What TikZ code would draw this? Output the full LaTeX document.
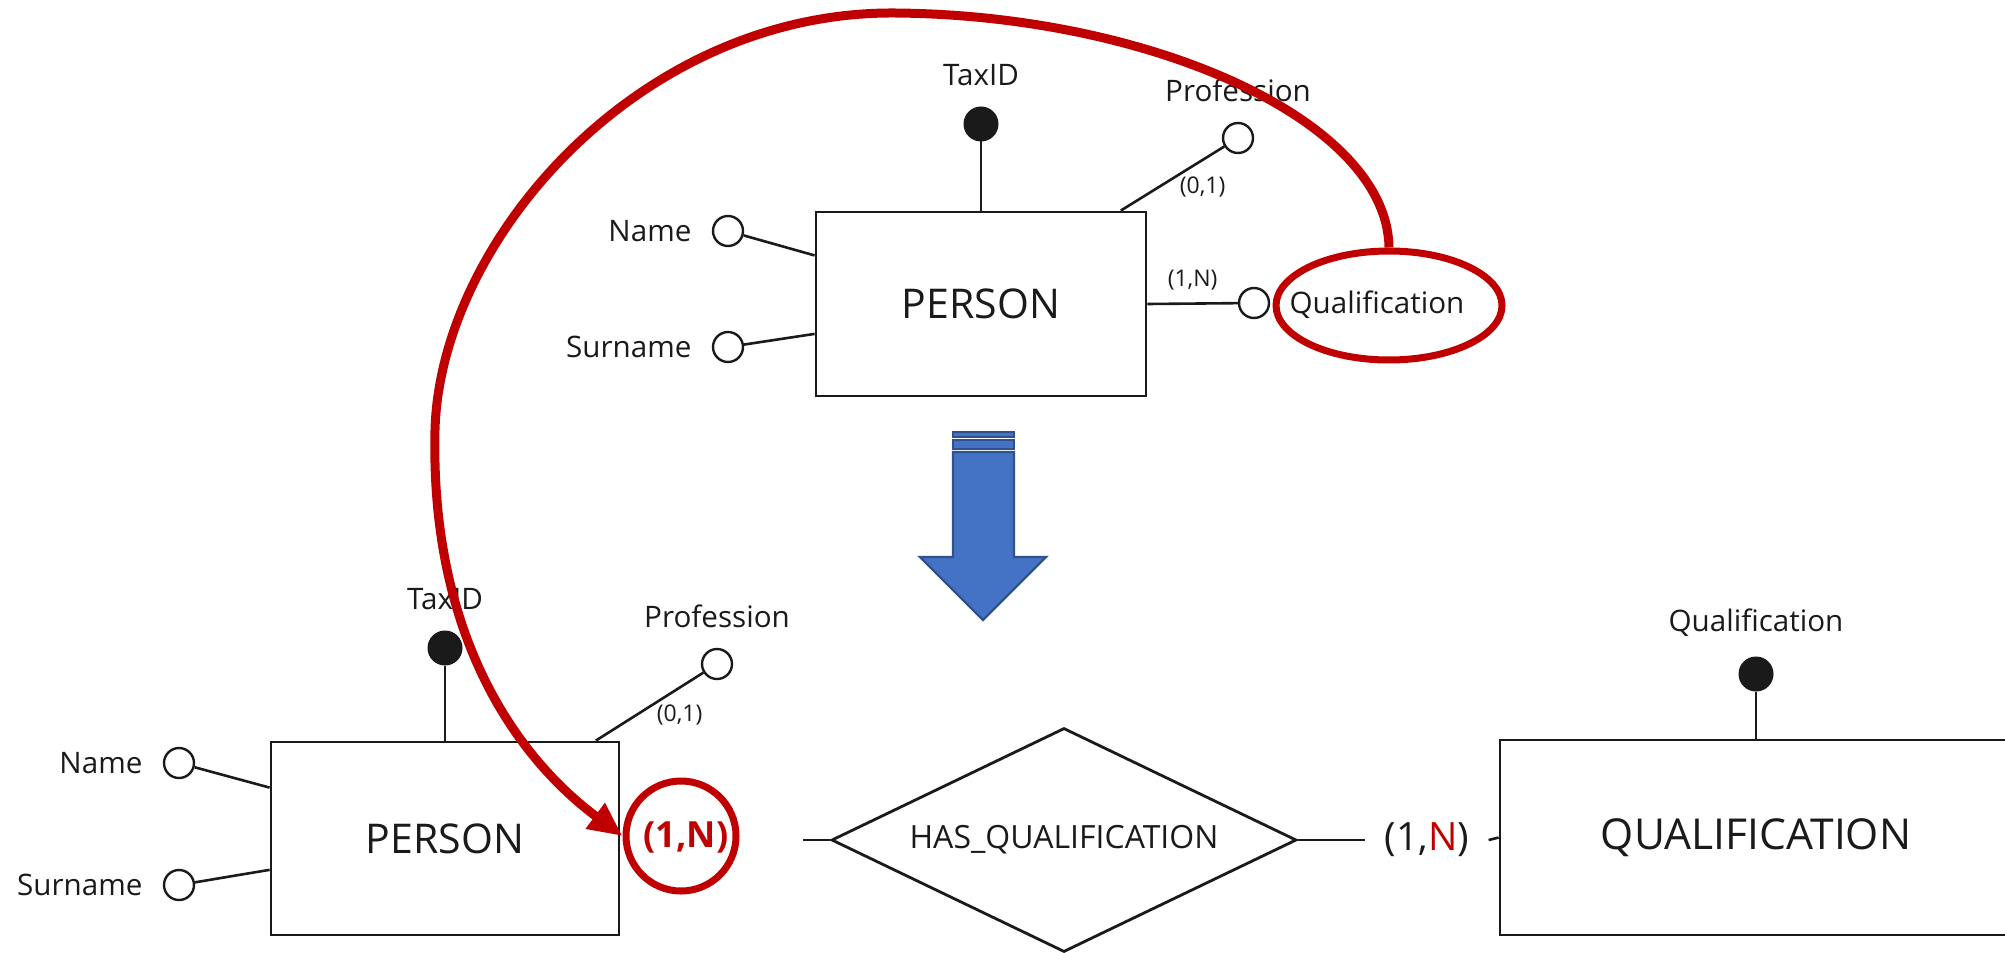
\documentclass[tikz,border=0pt]{standalone}
\usepackage{fontspec}
\setmainfont{Open Sans}
\usetikzlibrary{positioning,shapes.geometric,arrows.meta,calc}
\definecolor{ink}{HTML}{1A1A1A}
\definecolor{markred}{HTML}{C00000}
\definecolor{arrowblue}{HTML}{4472C4}
\definecolor{arrowedge}{HTML}{2F528F}
\tikzset{
    % entities and relationships
    entity/.style={
        rectangle,
        draw=ink,
        line width=1.4pt,
        text=ink,
        font=\fontsize{20.5}{24}\selectfont
    },
    relation/.style={
        diamond,
        aspect=2,
        draw=ink,
        line width=1.4pt,
        inner sep=2pt,
        minimum width=232.5pt,
        minimum height=112pt,
        text=ink,
        font=\fontsize{16}{19}\selectfont
    },
    % attributes
    attr/.style={
        circle,
        draw=ink,
        line width=1.2pt,
        fill=white,
        inner sep=0pt,
        minimum size=15pt
    },
    attr-key/.style={
        circle,
        draw=ink,
        fill=ink,
        line width=0.5pt,
        inner sep=0pt,
        minimum size=17pt
    },
    attr-label/.style={
        text=ink,
        inner sep=1pt,
        font=\fontsize{14.8}{17}\selectfont
    },
    card/.style={
        text=ink,
        inner sep=2pt,
        font=\fontsize{11.5}{14}\selectfont
    },
    card-big/.style={
        text=ink,
        inner xsep=9.5pt,
        font=\fontsize{19.5}{23}\selectfont
    },
    card-red/.style={
        text=markred,
        inner sep=1pt,
        font=\fontsize{18}{21}\selectfont\bfseries
    },
    link/.style={
        draw=ink,
        line width=1.3pt
    },
    % markings
    mark-ring/.style={
        draw=markred,
        line width=3.5pt,
        inner sep=0pt
    },
    mark-arrow/.style={
        draw=markred,
        line width=4.5pt,
        -{Triangle[length=17pt,width=15pt]}
    },
    arrow-shape/.style={
        fill=arrowblue,
        draw=arrowedge,
        line width=1.2pt
    }
}

\begin{document}
\begin{tikzpicture}[x=0.5pt, y=-0.5pt, node distance=9pt]
    \useasboundingbox (0,0) rectangle (2005,952);

    % before
    \node [entity, minimum width=165pt, minimum height=92pt] (person-1) at (981,304) {PERSON};

    \node [attr-key] (taxid-1) at (981,124) {};
    \node [attr-label, above=of taxid-1] (taxid-1-label) {TaxID};
    \draw [link] (taxid-1) -- (person-1.north);

    \foreach \a/\t/\y/\f in {name/Name/231/.24, surname/Surname/347/.66} {
        \node [attr] (\a-1) at (728,\y) {};
        \node [attr-label, left=of \a-1] (\a-1-label) {\t};
        \draw [link] (\a-1) -- ($(person-1.north west)!\f!(person-1.south west)$);
    }

    \node [attr] (prof-1) at (1238,138) {};
    \node [attr-label, above=of prof-1] (prof-1-label) {Profession};
    \draw [link] ($(person-1.north west)!.92!(person-1.north east)$) -- (prof-1)
        node [midway, anchor=west, xshift=1pt, yshift=-4pt, card] (prof-1-card) {(0,1)};

    \node [attr] (qual-1) at (1254,303) {};
    \node [attr-label] (qual-1-label) at (1377,305) {Qualification};
    \node [mark-ring, ellipse, minimum width=113pt, minimum height=54.5pt] (qual-ring) at (1389,305.5) {};
    \draw [link] (person-1.east) -- (qual-1)
        node [midway, above=4pt, card] (qual-1-card) {(1,N)};

    % transformation
    \filldraw [arrow-shape] (953,432) rectangle (1014,437);
    \filldraw [arrow-shape] (953,440) rectangle (1014,449);
    \filldraw [arrow-shape] (953,452) -- (1014,452) -- (1014,557) -- (1046,557)
        -- (983,620) -- (920,557) -- (953,557) -- cycle;

    % after
    \node [entity, minimum width=174pt, minimum height=96.5pt] (person-2) at (445,838.5) {PERSON};

    \node [attr-key] (taxid-2) at (445,648) {};
    \node [attr-label, above=of taxid-2] (taxid-2-label) {TaxID};
    \draw [link] (taxid-2) -- (person-2.north);

    \foreach \a/\t/\y/\f in {name/Name/763/.24, surname/Surname/885/.66} {
        \node [attr] (\a-2) at (179,\y) {};
        \node [attr-label, left=of \a-2] (\a-2-label) {\t};
        \draw [link] (\a-2) -- ($(person-2.north west)!\f!(person-2.south west)$);
    }

    \node [attr] (prof-2) at (717,664) {};
    \node [attr-label, above=of prof-2] (prof-2-label) {Profession};
    \draw [link] ($(person-2.north west)!.93!(person-2.north east)$) -- (prof-2)
        node [midway, anchor=west, xshift=1pt, yshift=-4pt, card] (prof-2-card) {(0,1)};

    \node [card-red] (card-1) at (686,837) {(1,N)};
    \node [mark-ring, circle, minimum size=55pt] (card-1-ring) at (681,836) {};

    \node [relation] (has) at (1064,840) {HAS\_QUALIFICATION};
    \coordinate (has-stub) at (803,840);
    \draw [link] (has-stub) -- (has.west);

    \node [entity, minimum width=256pt, minimum height=97.5pt, font=\fontsize{21.3}{25}\selectfont]
        (qualification-2) at (1756,837.5) {QUALIFICATION};
    \node [card-big] (card-2) at (1427,840) {(1,\textcolor{markred}{N})};
    \draw [link] (has.east) -- (card-2.west);
    \draw [link] (card-2.east) -- (qualification-2.west);

    \node [attr-key] (qual-2) at (1756,674) {};
    \node [attr-label, above=of qual-2] (qual-2-label) {Qualification};
    \draw [link] (qual-2) -- (qualification-2.north);

    % markings
    \draw [mark-arrow] (qual-ring.north) .. controls (1387,120) and (1150,15) .. (895,13)
        .. controls (640,11) and (440,240) .. (435,430)
        .. controls (430,640) and (520,760) .. (card-1-ring.west);

\end{tikzpicture}
\end{document}
